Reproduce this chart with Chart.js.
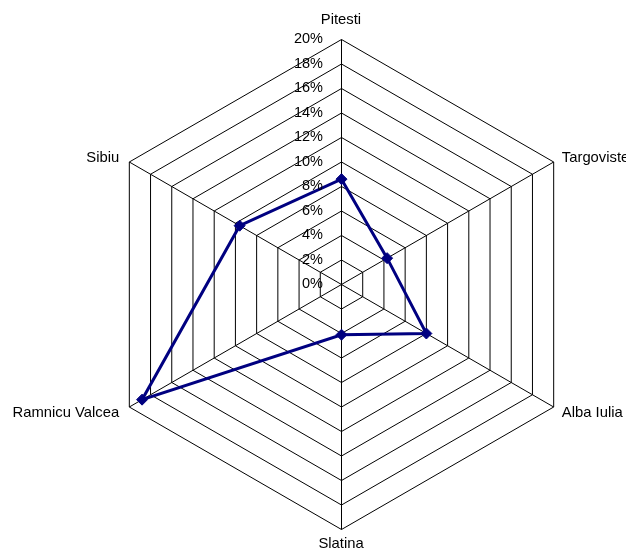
<!DOCTYPE html>
<html>
<head>
<meta charset="utf-8">
<script src="https://cdn.jsdelivr.net/npm/chart.js@4/dist/chart.umd.min.js"></script>
<style>
  html, body { margin: 0; padding: 0; background: #fff; }
  canvas { display: block; }
</style>
</head>
<body>
<canvas id="chart" width="626" height="558"></canvas>
<script>
// Share per city (percent)
const cities = ['Pitesti', 'Targoviste', 'Alba Iulia', 'Slatina', 'Ramnicu Valcea', 'Sibiu'];
const shares = [8.6, 4.3, 8.0, 4.1, 18.8, 9.6];
const tickValues = [0, 2, 4, 6, 8, 10, 12, 14, 16, 18, 20];

const TICK_FONT = '14.5px "Liberation Sans", Arial, sans-serif';
const NAME_FONT = '14.8px "Liberation Sans", Arial, sans-serif';

// Half-pixel shift so the 1px grid and spokes land on whole pixels
const crispPlugin = {
  id: 'crisp',
  beforeDraw(chart) {
    chart.ctx.save();
    chart.ctx.translate(0.5, 0.5);
  },
  afterDatasetsDraw(chart) {
    chart.ctx.restore();
  }
};

// Draws the city names and the percentage scale on the vertical spoke
const labelsPlugin = {
  id: 'radarLabels',
  afterDraw(chart) {
    const scale = chart.scales.r;
    const ctx = chart.ctx;
    ctx.save();
    ctx.fillStyle = '#000';

    // percentage ticks, right-aligned left of the top spoke
    ctx.font = TICK_FONT;
    ctx.textAlign = 'right';
    ctx.textBaseline = 'middle';
    tickValues.forEach(v => {
      const d = scale.getDistanceFromCenterForValue(v);
      ctx.fillText(v + '%', scale.xCenter - 18, scale.yCenter - d);
    });

    // city names around the outer ring
    ctx.font = NAME_FONT;
    cities.forEach((name, i) => {
      const pos = scale.getPointPosition(i, scale.drawingArea + 10);
      const dx = pos.x - scale.xCenter;
      const dy = pos.y - scale.yCenter;
      if (Math.abs(dx) < 1) {
        ctx.textAlign = 'center';
        ctx.textBaseline = 'alphabetic';
        ctx.fillText(name, pos.x, dy < 0 ? pos.y - 5.5 : pos.y + 8.5);
      } else {
        ctx.textAlign = dx > 0 ? 'left' : 'right';
        ctx.textBaseline = 'middle';
        ctx.fillText(name, dx > 0 ? pos.x : pos.x - 1, pos.y + 1);
      }
    });
    ctx.restore();
  }
};

new Chart(document.getElementById('chart'), {
  type: 'radar',
  data: {
    labels: cities,
    datasets: [{
      data: shares,
      borderColor: '#000080',
      backgroundColor: 'rgba(0,0,0,0)',
      fill: false,
      borderWidth: 3,
      pointStyle: 'rectRot',
      pointRadius: 5.5,
      pointHoverRadius: 5.5,
      pointBackgroundColor: '#000080',
      pointBorderColor: '#000080',
      pointBorderWidth: 1,
      tension: 0
    }]
  },
  options: {
    responsive: false,
    animation: false,
    layout: { padding: { left: 96, top: 39, right: 40, bottom: 29 } },
    plugins: {
      legend: { display: false },
      tooltip: { enabled: false }
    },
    scales: {
      r: {
        min: 0,
        max: 20,
        ticks: { stepSize: 2, display: false },
        grid: { circular: false, color: '#000', lineWidth: 1 },
        angleLines: { display: true, color: '#000', lineWidth: 1 },
        pointLabels: { display: false }
      }
    }
  },
  plugins: [crispPlugin, labelsPlugin]
});
</script>
</body>
</html>
